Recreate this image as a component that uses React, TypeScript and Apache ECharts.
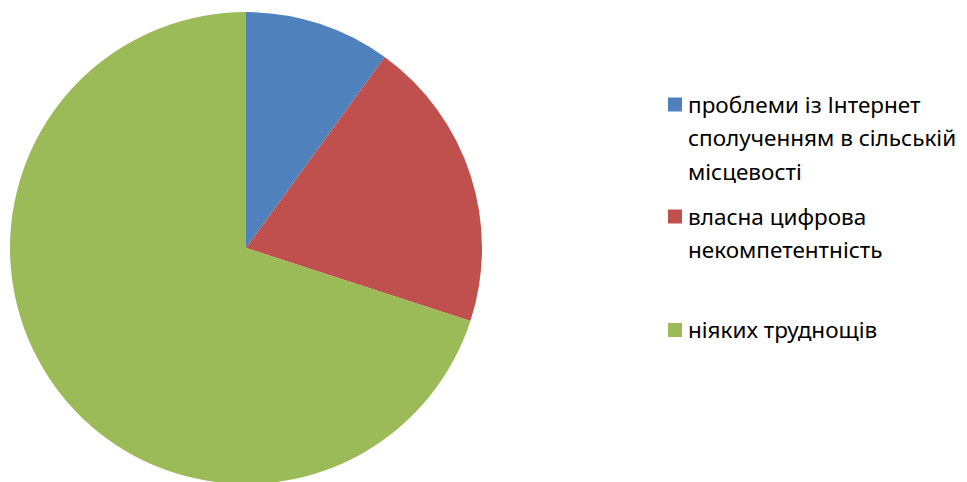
import React, { useEffect, useRef } from "react";
import * as echarts from "echarts";

const categories = [
  "проблеми із Інтернет сполученням в сільській місцевості",
  "власна цифрова некомпетентність",
  "ніяких труднощів",
];
const legendLines = [
  ["проблеми із Інтернет", "сполученням в сільській", "місцевості"],
  ["власна цифрова", "некомпетентність"],
  ["ніяких труднощів"],
];
const values = [10, 20, 70];
const colors = ["#4F81BD", "#C0504D", "#9BBB59"];

const legendTops = [104.5, 216.5, 330];

export default function App() {
  const ref = useRef<HTMLDivElement>(null);
  useEffect(() => {
    if (!ref.current) return;
    const chart = echarts.init(ref.current, undefined, { renderer: "svg" });
    const graphics: any[] = [];
    categories.forEach((c, i) => {
      graphics.push({
        type: "rect",
        left: 668,
        top: legendTops[i] - 7,
        shape: { width: 14, height: 14 },
        style: { fill: colors[i] },
      });
      graphics.push({
        type: "text",
        left: 688,
        top: legendTops[i] - 17,
        style: {
          text: legendLines[i].join("\n"),
          font: '22.5px "Noto Sans"',
          fill: "#000000",
          lineHeight: 33.5,
        },
      });
    });
    chart.setOption({
      animation: false,
      backgroundColor: "#ffffff",
      color: colors,
      graphic: graphics,
      series: [
        {
          type: "pie",
          center: [246, 248],
          radius: 236,
          startAngle: 90,
          clockwise: true,
          label: { show: false },
          labelLine: { show: false },
          itemStyle: { borderWidth: 0 },
          emphasis: { disabled: true },
          data: categories.map((c, i) => ({ name: c, value: values[i] })),
        },
      ],
    });
    return () => chart.dispose();
  }, []);
  return (
    <div
      ref={ref}
      style={{ position: "fixed", left: 0, top: 0, width: 967, height: 482 }}
    />
  );
}
